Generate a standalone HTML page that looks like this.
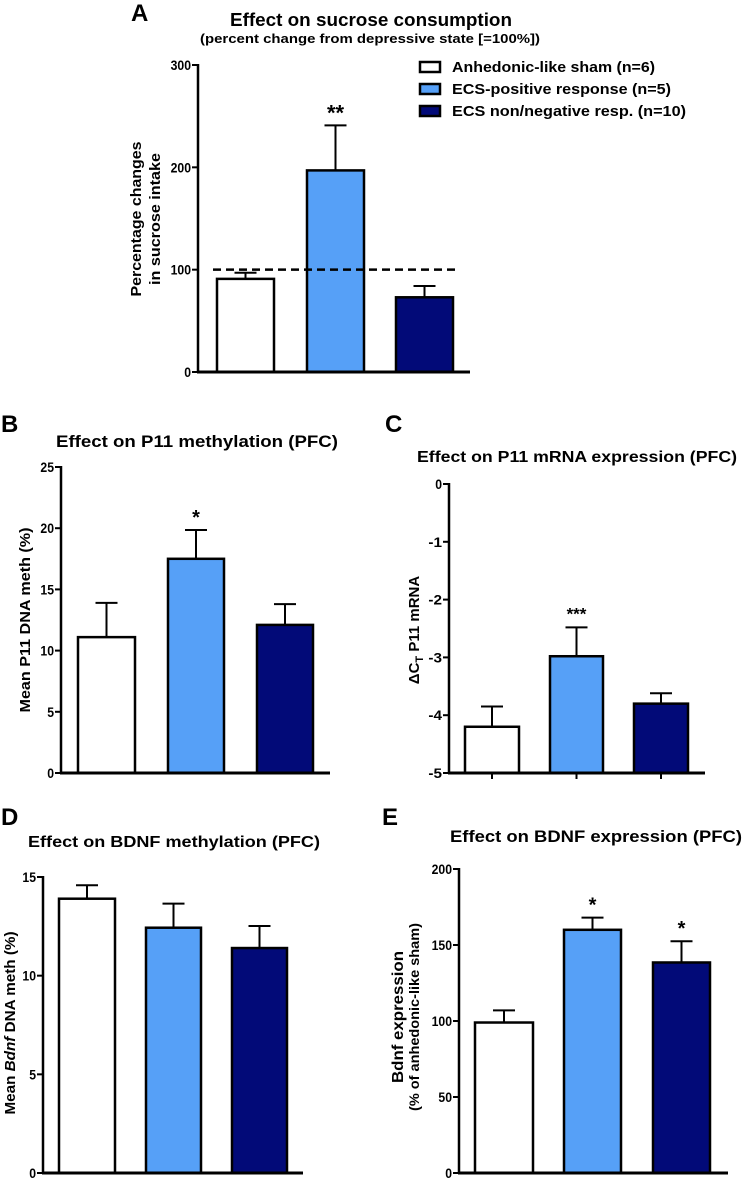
<!DOCTYPE html>
<html><head><meta charset="utf-8"><style>
html,body{margin:0;padding:0;background:#fff}
svg{display:block}
text{font-family:"Liberation Sans",sans-serif;font-weight:bold;fill:#000}
</style></head><body>
<svg id="fig" width="747" height="1181" viewBox="0 0 747 1181" xmlns="http://www.w3.org/2000/svg">
<g>
<text x="131" y="21" font-size="24">A</text>
<text x="1" y="432" font-size="24">B</text>
<text x="385" y="432" font-size="24">C</text>
<text x="1" y="825" font-size="24">D</text>
<text x="382" y="825" font-size="24">E</text>
</g>
<g>
<text x="371" y="26" font-size="18" text-anchor="middle" textLength="282" lengthAdjust="spacingAndGlyphs">Effect on sucrose consumption</text>
<text x="370" y="43" font-size="13" text-anchor="middle" textLength="340" lengthAdjust="spacingAndGlyphs">(percent change from depressive state [=100%])</text>
<text x="197" y="447" font-size="17" text-anchor="middle" textLength="282" lengthAdjust="spacingAndGlyphs">Effect on P11 methylation (PFC)</text>
<text x="577" y="462" font-size="16" text-anchor="middle" textLength="320" lengthAdjust="spacingAndGlyphs">Effect on P11 mRNA expression (PFC)</text>
<text x="174" y="847" font-size="16" text-anchor="middle" font-weight="normal" textLength="292" lengthAdjust="spacingAndGlyphs">Effect on BDNF methylation (PFC)</text>
<text x="596" y="842" font-size="17" text-anchor="middle" textLength="292" lengthAdjust="spacingAndGlyphs">Effect on BDNF expression (PFC)</text>
</g>
<g>
<rect x="420" y="62" width="20" height="10" fill="#fff" stroke="#000" stroke-width="2.5"/>
<text x="452" y="72" font-size="15" textLength="203" lengthAdjust="spacingAndGlyphs">Anhedonic-like sham (n=6)</text>
<rect x="420" y="84" width="20" height="10" fill="#56a0f7" stroke="#000" stroke-width="2.5"/>
<text x="452" y="94" font-size="15" textLength="219" lengthAdjust="spacingAndGlyphs">ECS-positive response (n=5)</text>
<rect x="420" y="106" width="20" height="10" fill="#020a78" stroke="#000" stroke-width="2.5"/>
<text x="452" y="116" font-size="15" textLength="234" lengthAdjust="spacingAndGlyphs">ECS non/negative resp. (n=10)</text>
</g>
<g id="plots"></g>
</svg>
<script>
const colors = ['#ffffff', '#56a0f7', '#020a78'];
// Panel A
const aMeans = [91, 197, 73];
const aErrors = [6, 44, 11];
const aTicks = [0, 100, 200, 300];
const aStars = ['', '**', ''];
// Panel B
const bMeans = [11.1, 17.5, 12.1];
const bErrors = [2.8, 2.35, 1.7];
const bTicks = [0, 5, 10, 15, 20, 25];
const bStars = ['', '*', ''];
// Panel C
const cMeans = [-4.2, -2.98, -3.8];
const cErrors = [0.35, 0.5, 0.18];
const cTicks = [-5, -4, -3, -2, -1, 0];
const cStars = ['', '***', ''];
// Panel D
const dMeans = [13.9, 12.43, 11.4];
const dErrors = [0.68, 1.22, 1.12];
const dTicks = [0, 5, 10, 15];
const dStars = ['', '', ''];
// Panel E
const eMeans = [99, 160, 138.5];
const eErrors = [8, 8, 14];
const eTicks = [0, 50, 100, 150, 200];
const eStars = ['', '*', '*'];

const NS = 'http://www.w3.org/2000/svg';
const root = document.getElementById('plots');
function mk(tag, attrs, parent, txt){
  const e = document.createElementNS(NS, tag);
  for (const k in attrs) e.setAttribute(k, attrs[k]);
  if (txt !== undefined) e.textContent = txt;
  parent.appendChild(e);
  return e;
}
function panel(id, cfg, means, errors, ticks, stars){
  const g = mk('g', {}, root);
  
  
  const yMin = ticks[0], yMax = ticks[ticks.length-1];
  const y = v => cfg.y0 - (v - yMin) / (yMax - yMin) * (cfg.y0 - cfg.yTop);
  means.forEach((m, i) => {
    const x0 = cfg.bars[i][0], x1 = cfg.bars[i][1], cx = (x0 + x1) / 2;
    const top = y(m + errors[i]);
    const el = mk('line', {x1: cx, x2: cx, y1: y(m), y2: top, stroke: '#000', 'stroke-width': 2}, g);
    
    
    const cap = mk('line', {x1: cx - 11, x2: cx + 11, y1: top, y2: top, stroke: '#000', 'stroke-width': 2}, g);
    
    
    const r = mk('rect', {x: x0, y: y(m), width: x1 - x0, height: y(yMin) - y(m), fill: colors[i], stroke: '#000', 'stroke-width': 2.5}, g);
    
    
    if (stars[i]) {
      const s = mk('text', {x: cx, y: top + cfg.starOff, 'font-size': cfg.starSize, 'text-anchor': 'middle'}, g, stars[i]);
      
      
    }
    if (cfg.xticks) {
      const t = mk('line', {x1: cx, x2: cx, y1: cfg.y0, y2: cfg.y0 + 6, stroke: '#000', 'stroke-width': 2}, g);
      
      
    }
  });
  const ya = mk('line', {x1: cfg.ax, x2: cfg.ax, y1: cfg.yTop - 1, y2: cfg.y0 + 1, stroke: '#000', 'stroke-width': 2.5}, g);
  
  
  const xa = mk('line', {x1: cfg.ax - 1, x2: cfg.xEnd, y1: cfg.y0, y2: cfg.y0, stroke: '#000', 'stroke-width': 3}, g);
  
  
  ticks.forEach(t => {
    const l = mk('line', {x1: cfg.ax - 6, x2: cfg.ax, y1: y(t), y2: y(t), stroke: '#000', 'stroke-width': 2}, g);
    
    
    const tx = mk('text', {x: cfg.ax - 7, y: y(t) + 5, 'font-size': 14, 'text-anchor': 'end', textLength: String(t).length * 6.8, lengthAdjust: 'spacingAndGlyphs'}, g, String(t));
    
    
  });
  if (cfg.dash !== undefined) {
    const d = mk('line', {x1: cfg.dashX[0], x2: cfg.dashX[1], y1: y(cfg.dash), y2: y(cfg.dash), stroke: '#000', 'stroke-width': 2.5, 'stroke-dasharray': '8,5'}, g);
    
    
  }
  cfg.ylab.forEach((lab, k) => {
    const tx = mk('text', {x: 0, y: 0, 'font-size': lab.size, 'font-weight': lab.w || 'bold', 'text-anchor': 'middle',
      transform: 'translate(' + lab.x + ',' + lab.cy + ') rotate(-90)'}, g);
    if (lab.len) { tx.setAttribute('textLength', lab.len); tx.setAttribute('lengthAdjust', 'spacingAndGlyphs'); }
    
    
    lab.parts.forEach(p => { mk('tspan', p.a || {}, tx, p.t); });
  });
}
panel('a', {ax: 198, y0: 372, yTop: 65, xEnd: 470, bars: [[217,274],[307,364],[396,453]], starOff: -5, starSize: 22, dash: 100, dashX: [213, 458],
  ylab: [{x: 141, cy: 219, size: 15, len: 155, parts: [{t: 'Percentage changes'}]}, {x: 160, cy: 219, size: 15, len: 132, parts: [{t: 'in sucrose intake'}]}]},
  aMeans, aErrors, aTicks, aStars);
panel('b', {ax: 61, y0: 773, yTop: 467, xEnd: 330, bars: [[78,135],[168,224],[257,313]], starOff: -6, starSize: 20,
  ylab: [{x: 30, cy: 620, size: 15, len: 185, parts: [{t: 'Mean P11 DNA meth (%)'}]}]},
  bMeans, bErrors, bTicks, bStars);
panel('c', {ax: 449, y0: 773, yTop: 484, xEnd: 705, bars: [[465,519],[550,603],[634,688]], starOff: -8, starSize: 17, xticks: true,
  ylab: [{x: 419, cy: 630, size: 15, w: 'normal', parts: [{t: 'ΔC'}, {t: 'T', a: {dy: 4, 'font-size': 11}}, {t: ' P11 mRNA', a: {dy: -4}}]}]},
  cMeans, cErrors, cTicks, cStars);
panel('d', {ax: 43, y0: 1173, yTop: 877, xEnd: 303, bars: [[59,115],[146,201],[232,287]], starOff: -6, starSize: 18,
  ylab: [{x: 15, cy: 1023, size: 15, w: 'normal', len: 183, parts: [{t: 'Mean '}, {t: 'Bdnf', a: {'font-style': 'italic'}}, {t: ' DNA meth (%)'}]}]},
  dMeans, dErrors, dTicks, dStars);
panel('e', {ax: 459, y0: 1173, yTop: 869, xEnd: 728, bars: [[475,533],[564,621],[653,710]], starOff: -6, starSize: 20,
  ylab: [{x: 403, cy: 1017, size: 16, len: 132, parts: [{t: 'Bdnf expression'}]}, {x: 419, cy: 1017, size: 14, w: 'normal', len: 188, parts: [{t: '(% of anhedonic-like sham)'}]}]},
  eMeans, eErrors, eTicks, eStars);
</script>
</body></html>
